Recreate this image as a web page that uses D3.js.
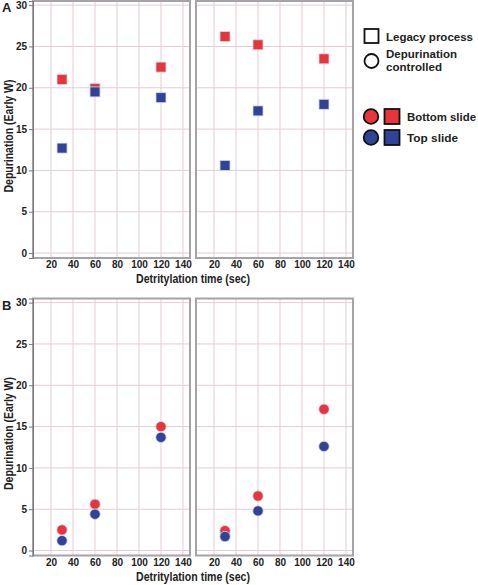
<!DOCTYPE html>
<html><head><meta charset="utf-8">
<script src="https://cdn.jsdelivr.net/npm/d3@7"></script>
<style>
body{margin:0;background:#fff;}
text{font-family:"Liberation Sans Narrow","Arial Narrow","Liberation Sans",Arial,sans-serif;font-weight:bold;fill:#222;}
</style></head>
<body>
<svg id="c" width="478" height="585"></svg>
<script>
const xTicks = [20,40,60,80,100,120,140];
const yTicks = [0,5,10,15,20,25,30];
const times = [30,60,120];
// Panel A: legacy process (squares)
const aLeftBottom = [21.0,19.9,22.5];
const aLeftTop    = [12.7,19.5,18.8];
const aRightBottom= [26.2,25.2,23.5];
const aRightTop   = [10.6,17.2,18.0];
// Panel B: depurination controlled (circles)
const bLeftBottom = [2.5,5.6,15.0];
const bLeftTop    = [1.2,4.4,13.7];
const bRightBottom= [2.4,6.6,17.1];
const bRightTop   = [1.7,4.8,12.6];

const RED = "#e8343b", BLUE = "#2f4497";
const svg = d3.select("#c");

function panel(ox, oy, showY, bottom, top, shape){
  const x = d3.scaleLinear().domain([3.6,146.4]).range([ox, ox+157]);
  const y = d3.scaleLinear().domain([-0.6,30.5]).range([oy+257, oy]);
  const g = svg.append("g");
  g.selectAll(".vg").data(xTicks).enter().append("line")
    .attr("x1",d=>x(d)).attr("x2",d=>x(d)).attr("y1",oy).attr("y2",oy+257)
    .attr("stroke","#e2cdd6").attr("stroke-width",1);
  g.selectAll(".hg").data(yTicks).enter().append("line")
    .attr("y1",d=>y(d)).attr("y2",d=>y(d)).attr("x1",ox).attr("x2",ox+157)
    .attr("stroke","#e2cdd6").attr("stroke-width",1);
  g.append("rect").attr("x",ox).attr("y",oy).attr("width",157).attr("height",257)
    .attr("fill","none").attr("stroke","#a3a3a8").attr("stroke-width",2);
  const xa = g.append("g").attr("transform",`translate(0,${oy+257})`)
    .call(d3.axisBottom(x).tickValues(xTicks).tickSize(0).tickPadding(3));
  xa.select(".domain").remove();
  xa.selectAll("text").attr("font-size",10).style("fill","#222");
  if(showY){
    const ya = g.append("g").attr("transform",`translate(${ox},0)`)
      .call(d3.axisLeft(y).tickValues(yTicks).tickSize(4).tickPadding(2));
    ya.select(".domain").attr("stroke","#777");
    ya.selectAll("line").attr("stroke","#777");
    ya.selectAll("text").attr("font-size",10).style("fill","#222");
  }
  const series = [{v:bottom,c:RED},{v:top,c:BLUE}];
  series.forEach(s=>{
    s.v.forEach((val,i)=>{
      if(shape==="square"){
        g.append("rect").attr("x",x(times[i])-5).attr("y",y(val)-5)
          .attr("width",10).attr("height",10).attr("fill",s.c)
          .attr("stroke","#d8d8e8").attr("stroke-width",0.8);
      } else {
        g.append("circle").attr("cx",x(times[i])).attr("cy",y(val)).attr("r",5.2)
          .attr("fill",s.c).attr("stroke","#d8d8e8").attr("stroke-width",0.8);
      }
    });
  });
}

function txt(x, y, size, str, len, anchor){
  const t = svg.append("text").attr("x",x).attr("y",y).attr("font-size",size).text(str);
  if(len) t.attr("textLength",len).attr("lengthAdjust","spacingAndGlyphs");
  if(anchor) t.attr("text-anchor",anchor);
  return t;
}

function row(oy, label, bottomL, topL, bottomR, topR, shape){
  panel(33, oy, true, bottomL, topL, shape);
  panel(196, oy, false, bottomR, topR, shape);
  txt(193, oy+282, 12.5, "Detritylation time (sec)", 114, "middle");
  svg.append("text").attr("transform",`translate(12.5,${oy+135}) rotate(-90)`)
    .attr("text-anchor","middle").attr("font-size",12)
    .attr("textLength",113).attr("lengthAdjust","spacingAndGlyphs")
    .text("Depurination (Early W)");
  txt(2, oy+11, 13, label);
}

row(1, "A", aLeftBottom, aLeftTop, aRightBottom, aRightTop, "square");
row(298.5, "B", bLeftBottom, bLeftTop, bRightBottom, bRightTop, "circle");

// legend
svg.append("rect").attr("x",364.5).attr("y",29).attr("width",14).attr("height",14)
  .attr("fill","#fff").attr("stroke","#111").attr("stroke-width",1.8);
txt(386, 41, 11.5, "Legacy process", 87);
svg.append("circle").attr("cx",371.5).attr("cy",61).attr("r",7)
  .attr("fill","#fff").attr("stroke","#111").attr("stroke-width",1.8);
txt(386, 57.5, 11.5, "Depurination", 71);
txt(386, 70.5, 11.5, "controlled", 56);
[{c:RED,y:116.5,t:"Bottom slide",w:69},{c:BLUE,y:137.5,t:"Top slide",w:51}].forEach(d=>{
  svg.append("circle").attr("cx",371).attr("cy",d.y).attr("r",7.3)
    .attr("fill",d.c).attr("stroke","#111").attr("stroke-width",1.8);
  svg.append("rect").attr("x",384.5).attr("y",d.y-7.5).attr("width",15).attr("height",15)
    .attr("fill",d.c).attr("stroke","#111").attr("stroke-width",1.8);
  txt(407, d.y+4.5, 11.5, d.t, d.w);
});
</script>
</body></html>
